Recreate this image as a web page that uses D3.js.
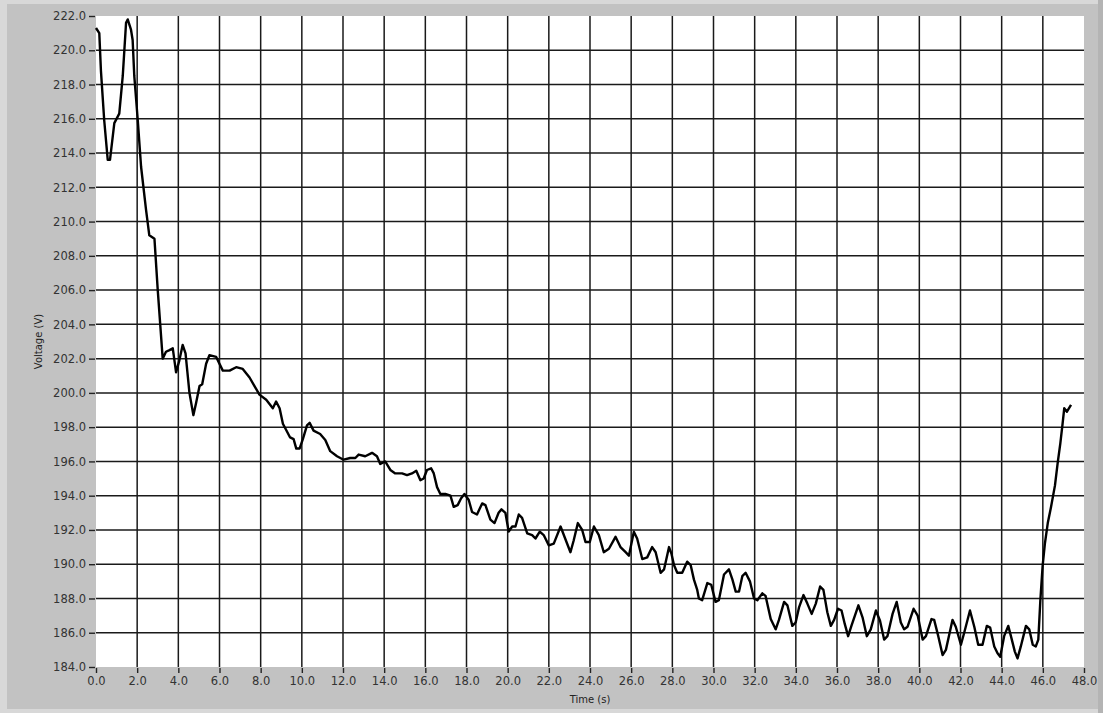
<!DOCTYPE html>
<html>
<head>
<meta charset="utf-8">
<script src="https://cdn.jsdelivr.net/npm/d3@7"></script>
<style>
  body { margin: 0; background: #d6d6d6; }
  svg { display: block; }
  .tick text { font-family: "DejaVu Sans", Verdana, sans-serif; font-size: 11.5px; fill: #333; }
  .axis-title { font-family: "DejaVu Sans", Verdana, sans-serif; font-size: 10px; fill: #222; }
</style>
</head>
<body>
<script>
// time (s) and voltage (V)
const time = [
  0, 0.16, 0.24, 0.4, 0.57, 0.68, 0.89, 1.13, 1.3, 1.46, 1.54, 1.7, 1.78, 1.86, 2.03, 2.19, 2.43, 2.59, 2.84, 3.0,
  3.24, 3.4, 3.57, 3.73, 3.89, 4.05, 4.21, 4.35, 4.54, 4.73, 4.86, 5.03, 5.16, 5.35, 5.51, 5.84, 6.16, 6.49, 6.81, 7.13,
  7.46, 7.7, 7.94, 8.27, 8.59, 8.75, 8.92, 9.08, 9.43, 9.6, 9.73, 9.89, 10.05, 10.25, 10.38, 10.57, 10.89, 11.14, 11.38, 11.71,
  12.03, 12.35, 12.6, 12.76, 13.08, 13.41, 13.65, 13.81, 14.05, 14.3, 14.54, 14.87, 15.11, 15.35, 15.56, 15.76, 15.92, 16.08, 16.28, 16.41,
  16.57, 16.73, 16.97, 17.22, 17.38, 17.57, 17.74, 17.9, 18.11, 18.27, 18.51, 18.76, 18.92, 19.16, 19.36, 19.56, 19.7, 19.89, 20.05, 20.22,
  20.38, 20.54, 20.7, 20.95, 21.19, 21.35, 21.56, 21.75, 22.0, 22.24, 22.57, 22.76, 23.05, 23.21, 23.41, 23.62, 23.78, 23.99, 24.19, 24.43,
  24.67, 24.92, 25.24, 25.48, 25.73, 25.89, 26.13, 26.29, 26.54, 26.78, 27.02, 27.19, 27.43, 27.6, 27.84, 27.96, 28.08, 28.24, 28.48, 28.72,
  28.89, 29.05, 29.21, 29.29, 29.45, 29.7, 29.89, 30.1, 30.26, 30.51, 30.75, 30.92, 31.08, 31.24, 31.4, 31.56, 31.77, 31.97, 32.13, 32.37,
  32.53, 32.78, 33.02, 33.18, 33.43, 33.59, 33.83, 33.99, 34.16, 34.37, 34.56, 34.77, 34.97, 35.18, 35.34, 35.53, 35.7, 35.86, 36.05, 36.22,
  36.38, 36.54, 36.7, 37.04, 37.24, 37.45, 37.64, 37.89, 38.09, 38.29, 38.45, 38.7, 38.9, 39.1, 39.26, 39.43, 39.72, 39.92, 40.16, 40.32,
  40.59, 40.72, 40.92, 41.13, 41.29, 41.61, 41.77, 42.02, 42.18, 42.46, 42.67, 42.86, 43.07, 43.28, 43.44, 43.64, 43.8, 43.93, 44.12, 44.32,
  44.45, 44.64, 44.77, 44.93, 45.18, 45.34, 45.51, 45.66, 45.78, 45.88, 45.99, 46.1, 46.24, 46.4, 46.59, 46.72, 46.85, 46.96, 47.04, 47.17,
  47.37
];
const voltage = [
  221.3, 221.0, 218.8, 215.9, 213.6, 213.6, 215.75, 216.3, 218.5, 221.6, 221.8, 221.2, 220.6, 218.5, 215.9, 213.2, 210.7, 209.2, 209.0, 206.0,
  202.0, 202.4, 202.5, 202.6, 201.2, 201.9, 202.8, 202.3, 200.0, 198.7, 199.4, 200.4, 200.5, 201.7, 202.2, 202.1, 201.3, 201.3, 201.5, 201.4,
  200.9, 200.4, 199.9, 199.6, 199.1, 199.5, 199.1, 198.2, 197.4, 197.3, 196.75, 196.75, 197.3, 198.1, 198.25, 197.8, 197.6, 197.25, 196.6, 196.3,
  196.1, 196.2, 196.2, 196.4, 196.3, 196.5, 196.3, 195.85, 196.0, 195.5, 195.3, 195.3, 195.2, 195.3, 195.45, 194.9, 195.0, 195.5, 195.6, 195.3,
  194.5, 194.1, 194.1, 194.0, 193.35, 193.45, 193.85, 194.1, 193.75, 193.05, 192.9, 193.55, 193.45, 192.6, 192.4, 193.0, 193.2, 193.0, 191.9, 192.2,
  192.2, 192.9, 192.7, 191.8, 191.7, 191.5, 191.9, 191.7, 191.1, 191.2, 192.2, 191.6, 190.7, 191.4, 192.4, 192.0, 191.3, 191.3, 192.2, 191.7,
  190.7, 190.9, 191.6, 191.0, 190.7, 190.5, 191.9, 191.5, 190.3, 190.4, 191.0, 190.7, 189.5, 189.7, 191.0, 190.6, 189.95, 189.5, 189.5, 190.15,
  189.95, 189.1, 188.5, 188.0, 187.9, 188.9, 188.8, 187.8, 187.9, 189.4, 189.7, 189.1, 188.4, 188.4, 189.3, 189.5, 189.0, 188.0, 187.9, 188.3,
  188.15, 186.8, 186.2, 186.75, 187.8, 187.6, 186.4, 186.6, 187.5, 188.2, 187.7, 187.1, 187.7, 188.7, 188.5, 187.2, 186.4, 186.75, 187.4, 187.3,
  186.5, 185.8, 186.4, 187.6, 186.9, 185.8, 186.2, 187.3, 186.7, 185.6, 185.8, 187.1, 187.8, 186.6, 186.2, 186.35, 187.4, 187.0, 185.6, 185.8,
  186.8, 186.75, 185.8, 184.7, 185.0, 186.75, 186.35, 185.3, 186.0, 187.3, 186.35, 185.3, 185.3, 186.4, 186.3, 185.2, 184.8, 184.6, 185.8, 186.4,
  185.8, 184.9, 184.5, 185.2, 186.4, 186.2, 185.3, 185.2, 185.6, 187.9, 189.9, 191.2, 192.4, 193.35, 194.6, 195.9, 197.05, 198.2, 199.1, 198.9,
  199.3
];
const xTicks = d3.range(0, 48.1, 2);
const yTicks = d3.range(184, 222.1, 2);

const w = 1103;
const h = 713;
const plot = { left: 96, top: 16, right: 1084, bottom: 667 };

const svg = d3.select("body")
  .append("svg")
  .attr("width", w)
  .attr("height", h);

// panel frame
svg.append("rect").attr("x", 0).attr("y", 0).attr("width", w).attr("height", h).attr("fill", "#d8d8d8");
svg.append("rect").attr("x", 7).attr("y", 4).attr("width", 1091).attr("height", 705).attr("fill", "#c2c2c2");
svg.append("rect").attr("x", 1098).attr("y", 0).attr("width", 5).attr("height", h).attr("fill", "#b4b4b4");

const xScale = d3.scaleLinear().domain([0, 48]).range([plot.left, plot.right]);
const yScale = d3.scaleLinear().domain([184, 222]).range([plot.bottom, plot.top]);

svg.append("rect")
  .attr("x", plot.left).attr("y", plot.top)
  .attr("width", plot.right - plot.left).attr("height", plot.bottom - plot.top)
  .attr("fill", "#fff");

// grid
svg.append("g").selectAll("line").data(xTicks.slice(1, -1)).enter().append("line")
  .attr("x1", d => xScale(d)).attr("x2", d => xScale(d))
  .attr("y1", plot.top).attr("y2", plot.bottom)
  .attr("stroke", "#1a1a1a").attr("stroke-width", 1.5);
svg.append("g").selectAll("line").data(yTicks.slice(1, -1)).enter().append("line")
  .attr("x1", plot.left).attr("x2", plot.right)
  .attr("y1", d => yScale(d)).attr("y2", d => yScale(d))
  .attr("stroke", "#1a1a1a").attr("stroke-width", 1.5);

const xAxis = d3.axisBottom(xScale).tickValues(xTicks).tickFormat(d3.format(".1f")).tickSize(5).tickPadding(4);
const gx = svg.append("g").attr("id", "x-axis").attr("transform", "translate(0," + (plot.bottom + 1) + ")").call(xAxis);
gx.select(".domain").remove();
gx.selectAll(".tick line").attr("stroke", "#222").attr("stroke-width", 1.4);

const yAxis = d3.axisLeft(yScale).tickValues(yTicks).tickFormat(d3.format(".1f")).tickSize(6).tickPadding(3);
const gy = svg.append("g").attr("id", "y-axis").attr("transform", "translate(" + (plot.left - 1) + ",0)").call(yAxis);
gy.select(".domain").remove();
gy.selectAll(".tick line").attr("stroke", "#222").attr("stroke-width", 1.4);

// the trace
const points = time.map((t, i) => [t, voltage[i]]);
const line = d3.line().x(d => xScale(d[0])).y(d => yScale(d[1]));
svg.append("path")
  .datum(points)
  .attr("d", line)
  .attr("fill", "none")
  .attr("stroke", "#000")
  .attr("stroke-width", 2.4)
  .attr("stroke-linejoin", "round");

svg.append("text").attr("class", "axis-title")
  .attr("x", (plot.left + plot.right) / 2).attr("y", 703)
  .attr("text-anchor", "middle")
  .text("Time (s)");
svg.append("text").attr("class", "axis-title")
  .attr("transform", "translate(42," + ((plot.top + plot.bottom) / 2) + ") rotate(-90)")
  .attr("text-anchor", "middle")
  .text("Voltage (V)");
</script>
</body>
</html>
